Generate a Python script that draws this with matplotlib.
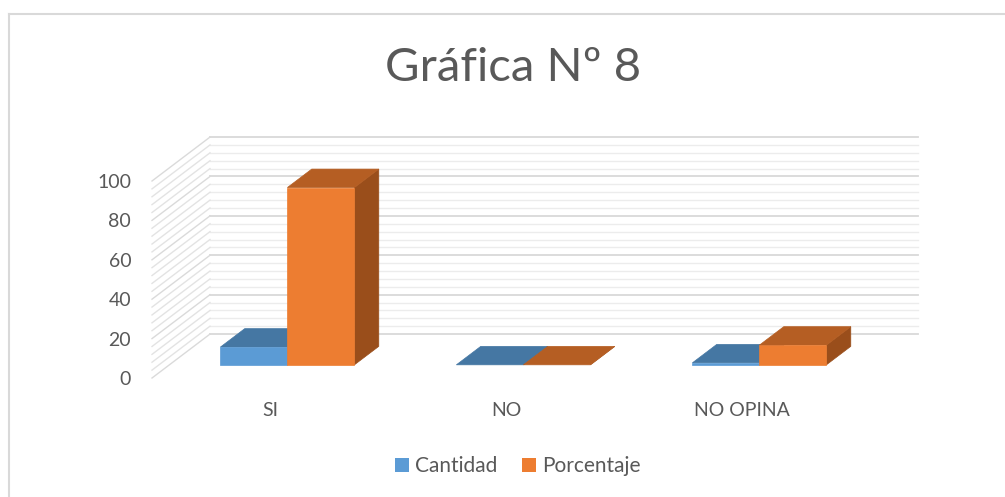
import matplotlib
matplotlib.use("Agg")
import matplotlib.pyplot as plt
from matplotlib.patches import Polygon, Patch
from matplotlib.lines import Line2D

categorias = ["SI", "NO", "NO OPINA"]
cantidad = [9, 0, 1]
porcentaje = [90, 0, 10]
series = ["Cantidad", "Porcentaje"]
yticks = [0, 20, 40, 60, 80, 100]

# colores: frente, tapa, lado
colores = {
    "Cantidad": ("#5B9BD5", "#4577A3", "#3A6389"),
    "Porcentaje": ("#ED7D31", "#B55E23", "#9A4E1B"),
}

DX = 58 / 236.0   # profundidad en unidades de categoria
DY = 22.3         # profundidad en unidades de valor
Z0, Z1 = 0.30, 0.72
ANCHO = 0.284


def proy(x, y, z):
    return (x + z * DX, y + z * DY)


def cara(ax, pts, color, zorder):
    ax.add_patch(Polygon([proy(*p) for p in pts], closed=True, facecolor=color,
                         edgecolor=color, linewidth=0.5, zorder=zorder, clip_on=False))


def barra(ax, x0, x1, h, col, zorder):
    frente, tapa, lado = col
    cara(ax, [(x1, 0, Z0), (x1, 0, Z1), (x1, h, Z1), (x1, h, Z0)], lado, zorder)
    cara(ax, [(x0, h, Z0), (x1, h, Z0), (x1, h, Z1), (x0, h, Z1)], tapa, zorder)
    if h > 0:
        cara(ax, [(x0, 0, Z0), (x1, 0, Z0), (x1, h, Z0), (x0, h, Z0)], frente, zorder)


def main():
    plt.rcParams["font.family"] = ["Lato", "DejaVu Sans"]
    fig = plt.figure(figsize=(10.05, 4.97), dpi=100)
    ax = fig.add_axes([152 / 1005, 119 / 497, 708 / 1005, 197 / 497])
    ax.set_xlim(-0.5, 2.5)
    ax.set_ylim(0, 100)
    for s in ax.spines.values():
        s.set_visible(False)

    # paredes: lineas de la pared del fondo y diagonales laterales
    for v in range(0, 101, 4):
        mayor = v % 20 == 0
        c = "#d9d9d9" if mayor else "#ececec"
        x0, y0 = proy(-0.5, v, 1)
        x1, _ = proy(2.5, v, 1)
        ax.plot([x0, x1], [y0, y0], color=c, lw=1.3 if mayor else 1.0, zorder=1, clip_on=False)
        a = proy(-0.5, v, 0)
        b = proy(-0.5, v, 1)
        ax.plot([a[0], b[0]], [a[1], b[1]], color="#dadada" if mayor else "#e3e3e3",
                lw=1.0, zorder=1, clip_on=False)

    for i in range(len(categorias)):
        barra(ax, i - ANCHO, i, cantidad[i], colores["Cantidad"], 3)
        barra(ax, i, i + ANCHO, porcentaje[i], colores["Porcentaje"], 4)

    ax.set_yticks(yticks)
    ax.set_xticks(range(len(categorias)))
    ax.set_xticklabels(categorias)
    ax.tick_params(axis="y", length=0, pad=15, labelsize=14, labelcolor="#595959")
    ax.tick_params(axis="x", length=0, pad=17, labelsize=14, labelcolor="#595959")

    fig.text(0.511, 1 - 68 / 497, "Gráfica Nº 8", ha="center", va="center",
             fontsize=34, color="#595959")

    handles = [Patch(facecolor=colores[s][0], edgecolor="none") for s in series]
    fig.legend(handles, series, loc="center", bbox_to_anchor=(518 / 1005, 1 - 466 / 497),
               ncol=2, frameon=False, fontsize=15, labelcolor="#595959",
               handlelength=0.65, handleheight=0.65, handletextpad=0.3, columnspacing=1.2)

    # borde del area del grafico
    fig.add_artist(Line2D([9 / 1005, 9 / 1005], [0, 1 - 14 / 497], transform=fig.transFigure,
                          color="#d9d9d9", lw=1.5))
    fig.add_artist(Line2D([9 / 1005, 1], [1 - 14 / 497, 1 - 14 / 497], transform=fig.transFigure,
                          color="#d9d9d9", lw=1.5))

    fig.savefig("out.png", dpi=100)
    plt.close(fig)


if __name__ == "__main__":
    main()
